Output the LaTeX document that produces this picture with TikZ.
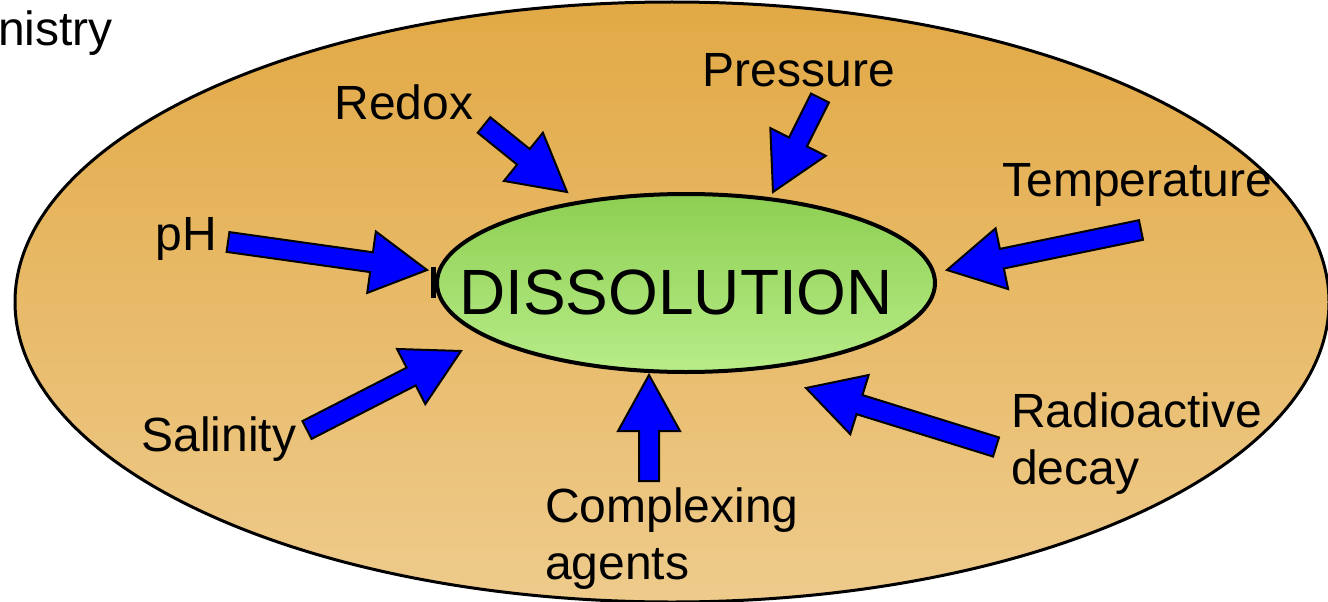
\documentclass[tikz,border=0pt]{standalone}
\usepackage{fontspec}
\setmainfont{Liberation Sans}
\usetikzlibrary{calc,shapes.geometric}
\definecolor{outtop}{HTML}{E2A945}
\definecolor{outbot}{HTML}{EECB8C}
\definecolor{intop}{HTML}{8DCF52}
\definecolor{inbot}{HTML}{B8EC88}
\definecolor{arrblue}{HTML}{0000FF}
\tikzset{
  lbl/.style={font=\fontsize{48}{57}\selectfont, inner sep=0pt, align=left},
  bigl/.style={font=\fontsize{64}{70}\selectfont, inner sep=0pt},
  blockarr/.style={fill=arrblue, draw=black, line width=2pt, line join=miter}
}
\newcommand\blockarrow[2]{%
  \coordinate (nk) at ($(#2)!56pt!(#1)$);
  \draw[blockarr] ($(#1)!10pt!90:(#2)$) -- ($(nk)!10pt!90:(#2)$)
    -- ($(nk)!31pt!90:(#2)$) -- (#2) -- ($(nk)!31pt!-90:(#2)$)
    -- ($(nk)!10pt!-90:(#2)$) -- ($(#1)!10pt!-90:(#2)$) -- cycle;
}
\begin{document}
\begin{tikzpicture}[x=1pt,y=-1pt]
\useasboundingbox (0,0) rectangle (1328,602);
\clip (0,0) rectangle (1328,602);
% outer ellipse
\shade[top color=outtop, bottom color=outbot] (672,302) ellipse [x radius=657, y radius=300];
\draw[line width=3pt] (672,302) ellipse [x radius=657, y radius=300];
% small bar left of inner ellipse
\fill (431,267) rectangle (436,298);
% inner ellipse
\node[ellipse, draw, line width=4pt, top color=intop, bottom color=inbot,
      minimum width=498pt, minimum height=178pt, inner sep=0pt] (core) at (686,283) {};
\node[bigl, anchor=base] (diss) at (676,314) {DISSOLUTION};
% labels
\node[lbl, anchor=base west] (chem) at (-2,46) {nistry};
\node[lbl, anchor=base] (redox) at (404,119) {Redox};
\node[lbl, anchor=base] (press) at (799,86) {Pressure};
\node[lbl, anchor=base] (temp) at (1137,196) {Temperature};
\node[lbl, anchor=base] (ph) at (186,250) {pH};
\node[lbl, anchor=base] (sal) at (219,451) {Salinity};
\node[lbl, anchor=north west] (rad) at (1011,393) {Radioactive\\decay};
\node[lbl, anchor=north west] (comp) at (545,488) {Complexing\\agents};
% arrow end points
\coordinate (phT) at (228,242);   \coordinate (phH) at (427,270);
\coordinate (rdT) at (484,125);   \coordinate (rdH) at (567,192);
\coordinate (prT) at (820,98);    \coordinate (prH) at (773,192);
\coordinate (tpT) at (1141,230);  \coordinate (tpH) at (947,270);
\coordinate (raT) at (996,447);   \coordinate (raH) at (806,388);
\coordinate (cpT) at (649,481);   \coordinate (cpH) at (649,375);
\coordinate (saT) at (307,430);   \coordinate (saH) at (461,351);
\blockarrow{phT}{phH}
\blockarrow{rdT}{rdH}
\blockarrow{prT}{prH}
\blockarrow{tpT}{tpH}
\blockarrow{raT}{raH}
\blockarrow{cpT}{cpH}
\blockarrow{saT}{saH}
\end{tikzpicture}
\end{document}
